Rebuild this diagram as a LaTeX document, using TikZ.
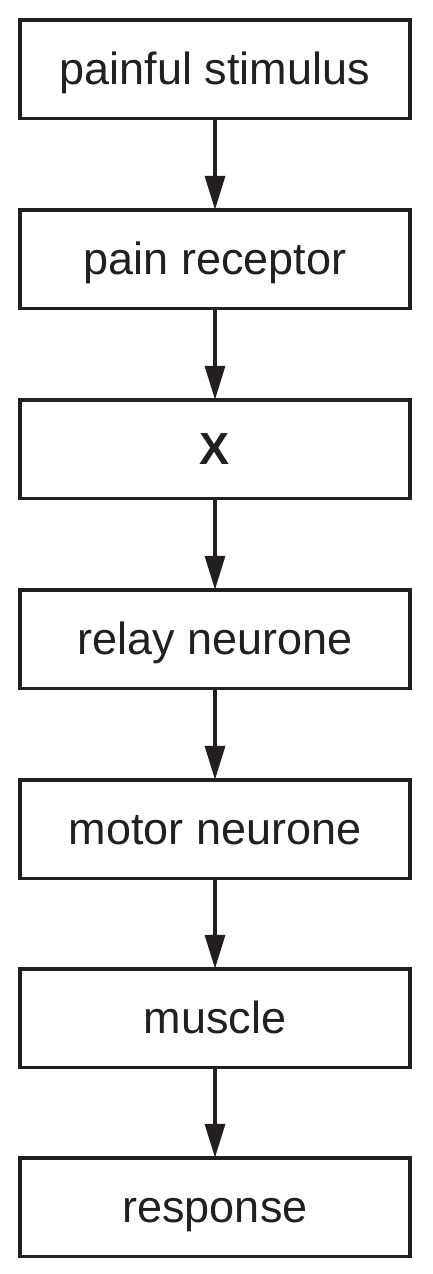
\documentclass[tikz,border=0pt]{standalone}
\usepackage{fontspec}
\setmainfont{Liberation Sans}
\usetikzlibrary{arrows.meta}
\definecolor{ink}{HTML}{231F20}
\begin{document}
\begin{tikzpicture}[x=1pt,y=1pt,
  stepbox/.style={draw=ink, line width=3.5pt, minimum width=390pt, minimum height=98.5pt, inner sep=0pt, text height=39pt, text depth=8pt, text=ink, font=\fontsize{45}{50}\selectfont},
  flow/.style={draw=ink, line width=3.5pt, -{Triangle[width=20pt,length=34pt]}, shorten >=-1.75pt}]
\useasboundingbox (0,0) rectangle (432,-1274);
\node[stepbox] (a) at (215,-69) {painful stimulus};
\node[stepbox] (b) at (215,-259) {pain receptor};
\node[stepbox] (c) at (215,-449) {\bfseries X};
\node[stepbox] (d) at (215,-639) {relay neurone};
\node[stepbox] (e) at (215,-829) {motor neurone};
\node[stepbox] (f) at (215,-1018) {muscle};
\node[stepbox] (g) at (215,-1207) {response};
\foreach \u/\v in {a/b,b/c,c/d,d/e,e/f,f/g}
  \draw[flow] (\u.south) -- (\v.north);
\end{tikzpicture}
\end{document}
